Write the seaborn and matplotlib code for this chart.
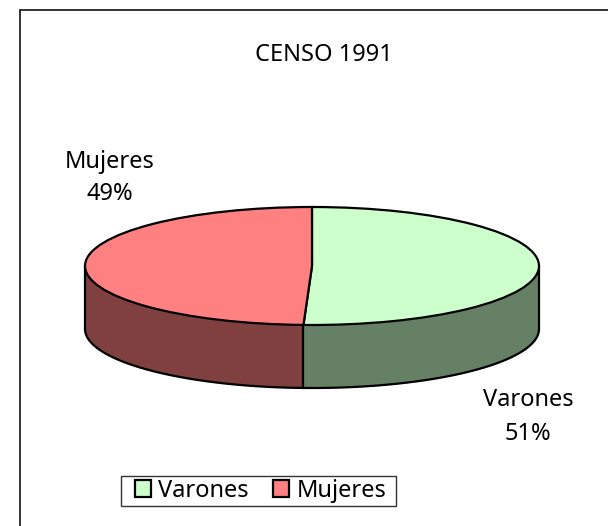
import numpy as np
import matplotlib

matplotlib.use("Agg")
import matplotlib.pyplot as plt
import matplotlib.patches as mpatches
import seaborn as sns

# Values (labels round them to 51 / 49)
categories = ["Varones", "Mujeres"]
values = [50.6, 49.4]
top_colors = ["#CCFFCC", "#FF8080"]
side_colors = ["#668066", "#804040"]
title = "CENSO 1991"

W, H = 608, 526
CX, CY = 312, 266      # centre of the top ellipse in pixels
RX, RY = 227, 59       # ellipse radii in pixels
DEPTH = 63 / RY        # height of the wall, in y radius units
FS = 17

sns.set_style("white")
plt.rcParams["font.family"] = ["Noto Sans", "DejaVu Sans"]

fig = plt.figure(figsize=(W / 100, H / 100), dpi=100)
fig.patch.set_facecolor("white")
ax = fig.add_axes([0, 0, 1, 1])

edge = {"edgecolor": "black", "linewidth": 1.6}

# Top of the cylinder
wedges, _ = ax.pie(
    values,
    colors=top_colors,
    startangle=90,
    counterclock=False,
    radius=1,
    wedgeprops=edge,
)
for w in wedges:
    w.set_zorder(3)

# Stretch the pie into an ellipse
ax.set_aspect("auto")
ax.set_xlim(-CX / RX, (W - CX) / RX)
ax.set_ylim(-(H - CY) / RY, CY / RY)
ax.axis("off")

# Front wall, from the split point out to each side of the ellipse
split = np.pi / 2 - 2 * np.pi * values[0] / sum(values)
ranges = [
    np.linspace(split, 0, 100),
    np.linspace(split, -np.pi, 100),
]
for t, col in zip(ranges, side_colors):
    xs = np.cos(t)
    ys = np.sin(t)
    ax.fill_between(xs, ys, ys - DEPTH, color=col, linewidth=0, zorder=1)
    ax.plot(xs, ys - DEPTH, color="black", linewidth=1.6, zorder=2)
    ax.plot([xs[-1], xs[-1]], [ys[-1], ys[-1] - DEPTH], color="black", linewidth=1.6, zorder=2)
ax.plot(
    [np.cos(split), np.cos(split)],
    [np.sin(split), np.sin(split) - DEPTH],
    color="black",
    linewidth=1.6,
    zorder=2,
)

# Texts, placed in figure pixels
def px_text(x, y, s):
    fig.text(x / W, 1 - y / H, s, ha="center", va="center", fontsize=FS,
             color="black", linespacing=1.5)

px_text(324, 55, title)
px_text(110, 178, f"{categories[1]}\n{round(values[1])}%")
px_text(528, 417, f"{categories[0]}\n{round(values[0])}%")

# Outer frame runs off the right and bottom of the picture
fig.add_artist(
    mpatches.Rectangle(
        (20 / W, -0.05),
        W,
        1 - 10 / H + 0.05,
        transform=fig.transFigure,
        fill=False,
        edgecolor="#222222",
        linewidth=1.3,
    )
)

# Legend box is drawn apart so its side padding can differ from the top and bottom
fig.add_artist(
    mpatches.Rectangle(
        (121 / W, 1 - 506 / H),
        275 / W,
        30 / H,
        transform=fig.transFigure,
        facecolor="white",
        edgecolor="#333333",
        linewidth=1.0,
    )
)
handles = [
    mpatches.Patch(facecolor=c, edgecolor="black", linewidth=1.6, label=n)
    for c, n in zip(top_colors, categories)
]
leg = fig.legend(
    handles=handles,
    ncol=2,
    loc="center",
    bbox_to_anchor=(260.5 / W, 1 - 491 / H),
    fontsize=FS,
    labelcolor="black",
    frameon=False,
    handlelength=0.7,
    handleheight=0.7,
    handletextpad=0.3,
    columnspacing=1.0,
    borderpad=0,
    borderaxespad=0,
)
leg.set_zorder(5)

fig.savefig("out.png", dpi=100, facecolor="white")
